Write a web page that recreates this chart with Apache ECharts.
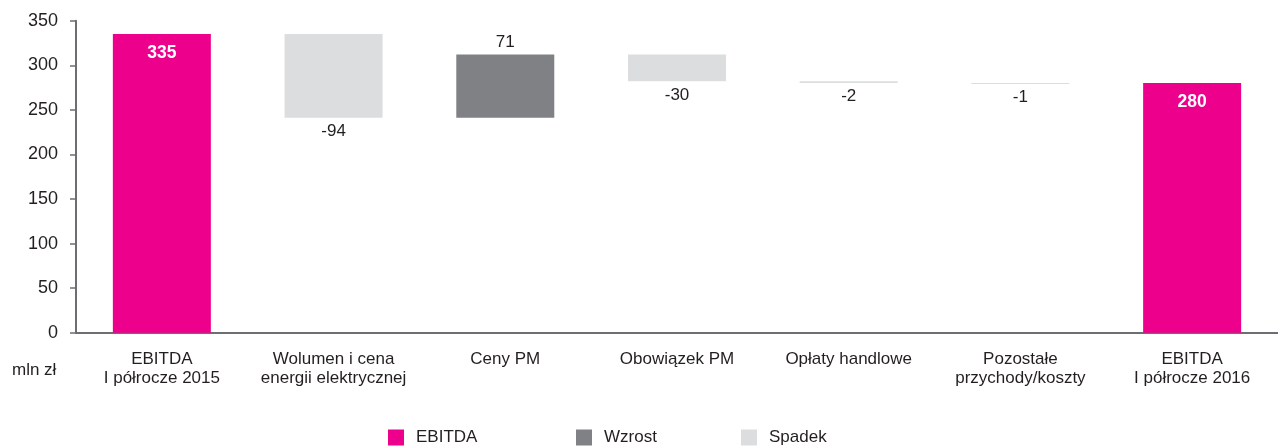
<!DOCTYPE html>
<html>
<head>
<meta charset="utf-8">
<script src="https://cdn.jsdelivr.net/npm/echarts@6/dist/echarts.min.js"></script>
<style>
  html, body { margin: 0; padding: 0; background: #fff; }
  #chart { width: 1278px; height: 447px; }
</style>
</head>
<body>
<div id="chart"></div>
<script>
// EBITDA bridge, H1 2015 -> H1 2016 (mln zł)
const categories = [
  'EBITDA\nI półrocze 2015',
  'Wolumen i cena\nenergii elektrycznej',
  'Ceny PM',
  'Obowiązek PM',
  'Opłaty handlowe',
  'Pozostałe\nprzychody/koszty',
  'EBITDA\nI półrocze 2016'
];
const ebitdaValues = [335, null, null, null, null, null, 280];
const changeValues = [null, -94, 71, -30, -2, -1, null];
const yTicks = { min: 0, max: 350, interval: 50 };

const COLOR_EBITDA = '#EC008C';
const COLOR_UP = '#808184';
const COLOR_DOWN = '#DCDDDE';
const TEXT = '#231f20';
const FONT = 'Liberation Sans, Arial, sans-serif';

// Floating bars: an invisible base plus the visible step on top of it
const base = [], ebitda = [], up = [], down = [];
let running = 0;
categories.forEach((c, i) => {
  if (ebitdaValues[i] != null) {
    running = ebitdaValues[i];
    base.push(0); ebitda.push(ebitdaValues[i]); up.push('-'); down.push('-');
  } else {
    const d = changeValues[i];
    if (d >= 0) {
      base.push(running); up.push(d); down.push('-'); ebitda.push('-');
      running += d;
    } else {
      running += d;
      base.push(running); down.push(-d); up.push('-'); ebitda.push('-');
    }
  }
});

const chart = echarts.init(document.getElementById('chart'));
const BAR_W = 98;
chart.setOption({
  animation: false,
  textStyle: { fontFamily: FONT, color: TEXT },
  grid: { left: 76, right: -12, top: 20.7, bottom: 114.3 },
  xAxis: {
    type: 'category',
    data: categories,
    axisLine: { lineStyle: { color: '#6d6e71', width: 2 } },
    axisTick: { show: false },
    axisLabel: { color: TEXT, fontSize: 17, lineHeight: 19, margin: 17, fontFamily: FONT, interval: 0 }
  },
  yAxis: {
    type: 'value',
    min: yTicks.min, max: yTicks.max, interval: yTicks.interval,
    splitLine: { show: false },
    axisLine: { show: true, lineStyle: { color: '#6d6e71', width: 2 } },
    axisTick: { show: true, length: 6, lineStyle: { color: '#6d6e71', width: 1.5 } },
    axisLabel: { color: TEXT, fontSize: 18, margin: 18, fontFamily: FONT }
  },
  legend: [
    { data: ['EBITDA'], left: 383, top: 424 },
    { data: ['Wzrost'], left: 571, top: 424 },
    { data: ['Spadek'], left: 736, top: 424 }
  ].map(l => Object.assign(l, {
    icon: 'rect', itemWidth: 16, itemHeight: 16, itemGap: 0, selectedMode: false,
    textStyle: { color: TEXT, fontSize: 17, fontFamily: FONT, padding: [0, 0, 0, 7] }
  })),
  graphic: [{
    type: 'text', left: 12, top: 362,
    style: { text: 'mln zł', fill: TEXT, fontSize: 17, fontFamily: FONT }
  }],
  series: [
    {
      name: 'base', type: 'bar', stack: 'w', barWidth: BAR_W, silent: true,
      itemStyle: { color: 'transparent' }, data: base
    },
    {
      name: 'EBITDA', type: 'bar', stack: 'w', barWidth: BAR_W,
      itemStyle: { color: COLOR_EBITDA }, data: ebitda,
      label: {
        show: true, position: 'insideTop', distance: 10, color: '#fff',
        fontWeight: 'bold', fontSize: 17.5, fontFamily: FONT
      }
    },
    {
      name: 'Wzrost', type: 'bar', stack: 'w', barWidth: BAR_W,
      itemStyle: { color: COLOR_UP }, data: up,
      label: {
        show: true, position: 'top', distance: 4, color: TEXT, fontSize: 17, fontFamily: FONT,
        formatter: p => String(changeValues[p.dataIndex])
      }
    },
    {
      name: 'Spadek', type: 'bar', stack: 'w', barWidth: BAR_W,
      itemStyle: { color: COLOR_DOWN }, data: down,
      label: {
        show: true, position: 'bottom', distance: 5, color: TEXT, fontSize: 17, fontFamily: FONT,
        formatter: p => String(changeValues[p.dataIndex])
      }
    }
  ]
});
</script>
</body>
</html>
